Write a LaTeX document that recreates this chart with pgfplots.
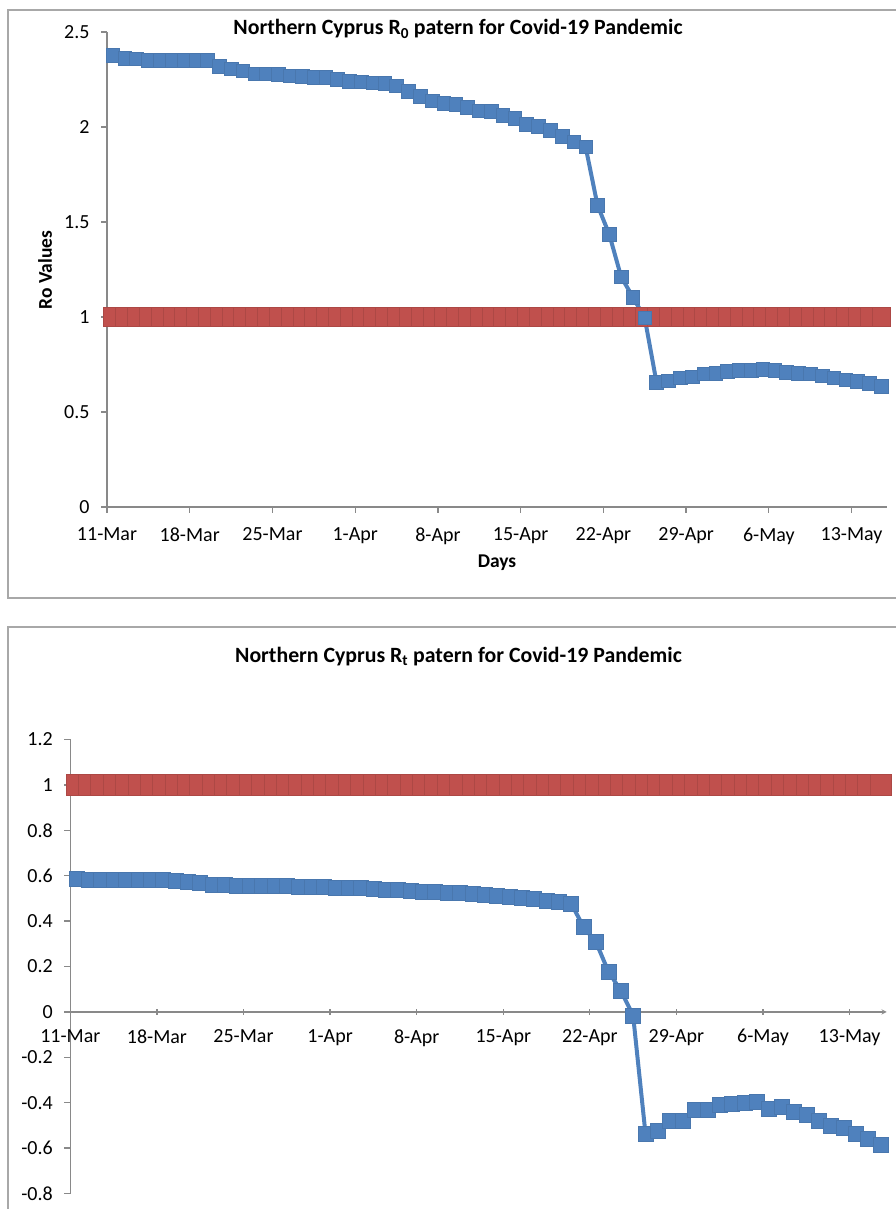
\documentclass[border=0pt]{standalone}
\usepackage{fontspec}
\setmainfont{Carlito}
\usepackage{pgfplots}
\pgfplotsset{compat=1.18}
\usepackage{pgfplotstable}

\definecolor{xlblue}{HTML}{4F81BD}
\definecolor{xlred}{HTML}{C0504D}
\definecolor{xlaxis}{HTML}{898989}
\definecolor{xlframe}{HTML}{A8A8A8}

% day index (0 = 11-Mar), R value, threshold line
\pgfplotstableread{
day r one
0 2.377 1
1 2.360 1
2 2.358 1
3 2.350 1
4 2.350 1
5 2.350 1
6 2.350 1
7 2.350 1
8 2.350 1
9 2.320 1
10 2.307 1
11 2.295 1
12 2.280 1
13 2.280 1
14 2.278 1
15 2.270 1
16 2.268 1
17 2.262 1
18 2.260 1
19 2.250 1
20 2.240 1
21 2.238 1
22 2.232 1
23 2.230 1
24 2.217 1
25 2.189 1
26 2.161 1
27 2.138 1
28 2.125 1
29 2.120 1
30 2.105 1
31 2.085 1
32 2.083 1
33 2.062 1
34 2.045 1
35 2.015 1
36 2.003 1
37 1.982 1
38 1.952 1
39 1.922 1
40 1.895 1
41 1.589 1
42 1.435 1
43 1.212 1
44 1.104 1
45 0.995 1
46 0.655 1
47 0.665 1
48 0.680 1
49 0.685 1
50 0.700 1
51 0.705 1
52 0.715 1
53 0.720 1
54 0.720 1
55 0.725 1
56 0.720 1
57 0.710 1
58 0.705 1
59 0.700 1
60 0.690 1
61 0.680 1
62 0.670 1
63 0.660 1
64 0.650 1
65 0.635 1
}\rodata

\pgfplotstableread{
day r one
0 0.585 1
1 0.582 1
2 0.581 1
3 0.580 1
4 0.580 1
5 0.580 1
6 0.580 1
7 0.580 1
8 0.579 1
9 0.572 1
10 0.567 1
11 0.562 1
12 0.558 1
13 0.557 1
14 0.556 1
15 0.556 1
16 0.555 1
17 0.554 1
18 0.552 1
19 0.550 1
20 0.549 1
21 0.548 1
22 0.547 1
23 0.546 1
24 0.544 1
25 0.540 1
26 0.537 1
27 0.533 1
28 0.530 1
29 0.527 1
30 0.525 1
31 0.524 1
32 0.519 1
33 0.515 1
34 0.512 1
35 0.505 1
36 0.502 1
37 0.497 1
38 0.490 1
39 0.483 1
40 0.476 1
41 0.374 1
42 0.307 1
43 0.178 1
44 0.094 1
45 -0.016 1
46 -0.537 1
47 -0.523 1
48 -0.478 1
49 -0.478 1
50 -0.433 1
51 -0.433 1
52 -0.408 1
53 -0.403 1
54 -0.400 1
55 -0.395 1
56 -0.426 1
57 -0.420 1
58 -0.440 1
59 -0.455 1
60 -0.478 1
61 -0.500 1
62 -0.510 1
63 -0.537 1
64 -0.560 1
65 -0.584 1
}\rtdata

\pgfplotsset{
  xlchart/.style={
    scale only axis,
    clip=false,
    axis line style={draw=xlaxis, line width=1.3pt, -},
    tick style={draw=xlaxis, line width=1.3pt},
    tick align=outside,
    major tick length=6pt,
    xmin=-0.5, xmax=65.5,
    xtick={-0.5,6.5,13.5,20.5,27.5,34.5,41.5,48.5,55.5,62.5},
    xticklabels={11-Mar,18-Mar,25-Mar,1-Apr,8-Apr,15-Apr,22-Apr,29-Apr,6-May,13-May},
    ticklabel style={font=\fontsize{20}{22}\selectfont, text=black},
    xticklabel style={yshift=-11pt},
    yticklabel style={xshift=-8pt},
    /pgf/number format/assume math mode=true,
    hide obscured x ticks=false,
    hide obscured y ticks=false,
    axis y line*=left,
  },
  blueline/.style={xlblue, line width=4pt, mark=square*,
    mark options={solid, fill=xlblue, draw=xlblue!92!black, line width=0.6pt}},
  redline/.style={xlred, line width=4pt, mark=square*,
    mark options={solid, fill=xlred, draw=xlred!90!black, line width=0.6pt}},
}

\begin{document}
\begin{tikzpicture}[x=1pt,y=1pt]
\useasboundingbox (0,0) rectangle (896,1209);
\draw[xlframe, line width=1.5pt] (8,611) rectangle (915,1199);
\draw[xlframe, line width=1.5pt] (8,-30) rectangle (915,582);

\node[anchor=base, font=\fontsize{21.8}{24}\selectfont\bfseries] at (458,1174)
  {Northern Cyprus R\textsubscript{0} patern for Covid-19 Pandemic};
\node[rotate=90, font=\fontsize{19.5}{22}\selectfont\bfseries] at (45,939) {Ro Values};
\node[font=\fontsize{19.5}{22}\selectfont\bfseries] at (497,646) {Days};

\begin{axis}[xlchart,
  at={(107pt,702pt)}, anchor=south west,
  width=780pt, height=475pt,
  axis x line*=bottom,
  ymin=0, ymax=2.5, ytick={0,0.5,1,1.5,2,2.5},
]
\addplot[redline, mark size=9.2pt] table[x=day, y=one] {\rodata};
\addplot[blueline, mark size=6.8pt] table[x=day, y=r] {\rodata};
\end{axis}

\node[anchor=base, font=\fontsize{21.8}{24}\selectfont\bfseries] at (458.5,546.3)
  {Northern Cyprus R\textsubscript{t} patern for Covid-19 Pandemic};

\begin{axis}[xlchart,
  at={(70.3pt,15.5pt)}, anchor=south west,
  width=816.4pt, height=454pt,
  axis x line=middle,
  ymin=-0.8, ymax=1.2, ytick={-0.8,-0.6,-0.4,-0.2,0,0.2,0.4,0.6,0.8,1,1.2},
]
\addplot[redline, mark size=10.5pt] table[x=day, y=one] {\rtdata};
\addplot[blueline, mark size=7.5pt] table[x=day, y=r] {\rtdata};
\end{axis}
\end{tikzpicture}
\end{document}
